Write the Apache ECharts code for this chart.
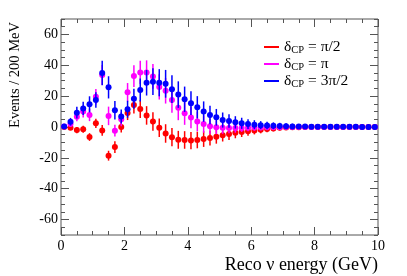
<!DOCTYPE html>
<html>
<head>
<meta charset="utf-8">
<script src="https://cdn.jsdelivr.net/npm/echarts@6/dist/echarts.min.js"></script>
<style>html,body{margin:0;padding:0;background:#fff;}#c{width:407px;height:276px;}</style>
</head>
<body>
<div id="c"></div>
<script>
const binCenters = [0.1,0.3,0.5,0.7,0.9,1.1,1.3,1.5,1.7,1.9,2.1,2.3,2.5,2.7,2.9,3.1,3.3,3.5,3.7,3.9,4.1,4.3,4.5,4.7,4.9,5.1,5.3,5.5,5.7,5.9,6.1,6.3,6.5,6.7,6.9,7.1,7.3,7.5,7.7,7.9,8.1,8.3,8.5,8.7,8.9,9.1,9.3,9.5,9.7,9.9];
const xTicks = [0,2,4,6,8,10];
const yTickLabels = [-60,-40,-20,0,20,40,60];

const redVals = [0,-0.5,-2,-1.5,-6.5,2.4,-2.2,-18.6,-13,0,9,14.3,11.6,7.5,3.6,-0.5,-4.2,-6.6,-8.3,-8.4,-8.8,-8.4,-7.8,-7.2,-6.3,-5.3,-4.6,-3.8,-3.3,-2.8,-2.2,-1.8,-1.3,-0.9,-0.5,-0.3,-0.2,-0.1,0,0,0,0,0,0,0,0,0,0,0,0];
const redErr = [1.0,1.5,2.0,2.3,2.5,3.0,3.5,3.2,3.8,3.5,4.5,5.5,5.8,6.0,6.0,6.0,6.0,5.9,5.8,5.7,5.6,5.4,5.1,4.8,4.5,4.1,3.8,3.5,3.2,2.9,2.6,2.3,2.1,1.9,1.7,1.5,1.4,1.3,1.2,1.1,1.0,0.9,0.9,0.8,0.8,0.7,0.7,0.6,0.6,0.6];

const magVals = [0.3,2,6.7,10,7.8,19.6,33.7,7.2,-2.4,5,22.5,33,35.4,35.4,32.8,26,23.5,17.5,12.4,8.9,6.2,3.6,1.9,0.5,-0.2,-0.5,-0.7,-0.7,-0.6,-0.5,-0.4,-0.3,-0.2,-0.2,-0.1,0,0,0,0,0,0,0,0,0,0,0,0,0,0,0];
const magErr = [1.0,2.0,3.0,3.8,4.0,5.0,6.5,6.0,3.8,4.5,6.0,7.0,7.6,7.8,8.0,8.2,8.3,8.3,8.0,7.5,7.0,6.3,5.6,5.0,4.4,3.9,3.4,3.0,2.6,2.3,2.0,1.8,1.6,1.4,1.3,1.2,1.1,1.0,0.9,0.9,0.8,0.8,0.7,0.7,0.6,0.6,0.6,0.5,0.5,0.5];

const blueVals = [0.3,3.4,9.3,12,14.7,17.5,35,25.7,10.8,6.8,11.5,18.3,24,28.7,29.4,28.7,28,24.5,21,18,15.4,12.8,10,7.8,6.3,4.5,3.9,3,2.4,1.9,1.5,1.2,1,0.8,0.6,0.5,0.4,0.3,0.3,0.2,0.2,0.1,0.1,0.1,0.1,0.1,0.1,0,0,0];
const blueErr = [1.2,2.5,3.8,4.3,5.2,5.0,8.0,7.2,6.0,4.5,5.5,6.5,7.5,8.3,8.6,8.8,9.0,9.0,8.6,8.2,7.7,7.2,6.6,6.0,5.4,4.9,4.4,4.0,3.6,3.2,2.9,2.6,2.4,2.2,2.1,2.0,1.8,1.6,1.4,1.3,1.1,1.0,0.9,0.9,0.8,0.8,0.7,0.7,0.6,0.6];

const seriesNames = ['red','mag','blue'];
const seriesColors = ['#ff0000','#ff00ff','#0000ff'];
const seriesLabels = ['{a|δ}{b|CP}{a| = π/2}','{a|δ}{b|CP}{a| = π}','{a|δ}{b|CP}{a| = 3π/2}'];
const allVals = [redVals, magVals, blueVals];
const allErr = [redErr, magErr, blueErr];

const FONT = '"Liberation Serif", "DejaVu Serif", serif';
const FRAME = '#555';

const series = [];
seriesNames.forEach((n, k) => {
  const color = seriesColors[k];
  series.push({
    name: n, type: 'custom', xAxisIndex: 0, yAxisIndex: 0, z: 2 + k * 2,
    data: binCenters.map((x, i) => [x, allVals[k][i], allErr[k][i]]),
    renderItem: function (params, api) {
      const x = api.value(0), y = api.value(1), e = api.value(2);
      const p1 = api.coord([x, y + e]), p2 = api.coord([x, y - e]);
      return { type: 'line', shape: { x1: p1[0], y1: p1[1], x2: p2[0], y2: p2[1] },
        style: { stroke: color, lineWidth: 1.5 } };
    },
    silent: true, animation: false
  });
  series.push({
    name: n, type: 'scatter', xAxisIndex: 0, yAxisIndex: 0, z: 3 + k * 2,
    data: binCenters.map((x, i) => [x, allVals[k][i]]),
    symbol: 'circle', symbolSize: 6,
    itemStyle: { color: color, opacity: 1 },
    silent: true, animation: false
  });
});

function xAx(pos) {
  return {
    type: 'value', position: pos, min: 0, max: 10, interval: 2,
    axisLine: { show: false, onZero: false },
    axisTick: { show: true, inside: true, length: 8, lineStyle: { color: FRAME, width: 1 } },
    minorTick: { show: true, splitNumber: 4, length: 4, lineStyle: { color: FRAME, width: 1 } },
    axisLabel: { show: pos === 'bottom', color: '#000', fontFamily: FONT, fontSize: 14, margin: 4 },
    splitLine: { show: false }, minorSplitLine: { show: false }
  };
}
function yMinor(pos, labels) {
  return {
    type: 'value', position: pos, min: -70, max: 70, interval: 5,
    axisLine: { show: false, onZero: false },
    axisTick: { show: true, inside: true, length: 4, lineStyle: { color: FRAME, width: 1 } },
    axisLabel: { show: labels, color: '#000', fontFamily: FONT, fontSize: 14, margin: 3,
      formatter: v => (yTickLabels.indexOf(v) >= 0 ? String(v) : '') },
    splitLine: { show: false }
  };
}
function yMajor(pos) {
  return {
    type: 'value', position: pos, min: -70, max: 70, interval: 5,
    axisLine: { show: false, onZero: false },
    axisTick: { show: true, inside: true, length: 8, customValues: yTickLabels, lineStyle: { color: FRAME, width: 1 } },
    axisLabel: { show: false },
    splitLine: { show: false }
  };
}

const chart = echarts.init(document.getElementById('c'), null, { renderer: 'canvas' });
chart.setOption({
  animation: false,
  backgroundColor: '#fff',
  textStyle: { fontFamily: FONT },
  grid: { left: 61, right: 29, top: 19, bottom: 41, show: true, borderColor: FRAME, borderWidth: 1, backgroundColor: 'transparent' },
  xAxis: [xAx('bottom'), xAx('top')],
  yAxis: [yMinor('left', true), yMajor('left'), yMinor('right', false), yMajor('right')],
  legend: {
    orient: 'vertical', left: 259, top: 34, itemGap: 0,
    itemWidth: 15, itemHeight: 2, icon: 'rect',
    data: seriesNames.map((n, k) => ({ name: n, itemStyle: { color: seriesColors[k] } })),
    formatter: n => seriesLabels[seriesNames.indexOf(n)],
    selectedMode: false,
    textStyle: {
      fontFamily: FONT, fontSize: 15, color: '#000',
      rich: {
        a: { fontFamily: FONT, fontSize: 15.5, color: '#000', lineHeight: 18 },
        b: { fontFamily: FONT, fontSize: 10.5, color: '#000', lineHeight: 18, verticalAlign: 'bottom' }
      }
    }
  },
  graphic: [
    { type: 'text', x: 15, y: 22, rotation: Math.PI / 2,
      style: { text: 'Events / 200 MeV', fontFamily: FONT, fontSize: 14.5, fill: '#000', align: 'right', verticalAlign: 'middle' } },
    { type: 'text', x: 378, y: 265,
      style: { text: 'Reco ν energy (GeV)', fontFamily: FONT, fontSize: 18, fill: '#000', align: 'right', verticalAlign: 'middle' } }
  ],
  series: series
});
</script>
</body>
</html>
